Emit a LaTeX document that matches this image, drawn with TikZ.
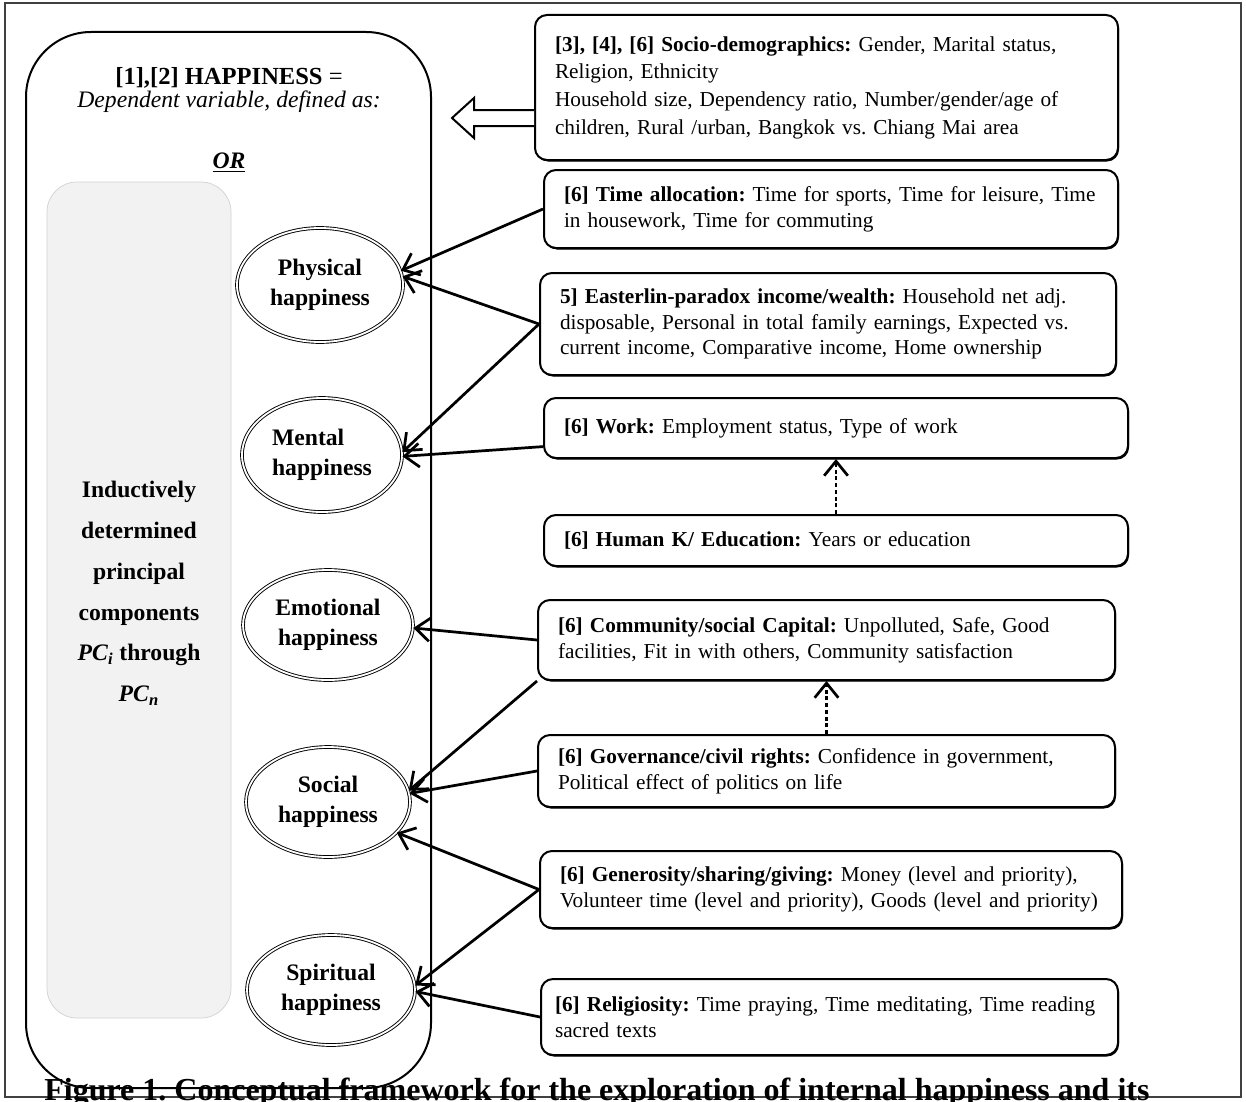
\documentclass[tikz,border=0pt]{standalone}
\usepackage{fontspec}
\setmainfont{Liberation Serif}
\usetikzlibrary{arrows.meta, shapes.geometric, positioning, calc, shadows}
\newlength{\pxu}
\setlength{\pxu}{0.55pt}
\frenchspacing
\hyphenpenalty=10000
\exhyphenpenalty=10000

\begin{document}
\begin{tikzpicture}[x=0.55pt, y=-0.55pt,
  factor/.style={draw, fill=white, line width=2\pxu, rounded corners=12\pxu,
    align=left, inner xsep=20\pxu, inner ysep=0pt,
    font=\fontsize{11.7}{14.2}\selectfont,
    drop shadow={shadow xshift=1\pxu, shadow yshift=-1.5\pxu, opacity=1, fill=black}},
  dim/.style={ellipse, draw, double, line width=0.5pt, double distance=1pt,
    inner sep=0pt, align=center, font=\bfseries\fontsize{13}{16.5}\selectfont},
  link/.style={-{Straight Barb[length=8pt, width=13pt]}, line width=1.5pt},
  depends/.style={link, dash pattern=on 2.2pt off 1.5pt}]
  \useasboundingbox (0,0) rectangle (1246,1101);
  \fill[white] (0,0) rectangle (1246,1101);

  % frame and the happiness block
  \draw[line width=1.3pt, black!75] (5,3) rectangle (1241,1097);
  \draw[line width=2\pxu, rounded corners=65\pxu] (26,32) rectangle (431,1088);
  \draw[fill=gray!10, draw=gray!35, rounded corners=30\pxu] (47,182) rectangle (231,1018);

  \node[font=\fontsize{13.5}{16}\selectfont] (title) at (229,78)
    {\textbf{[1],[2] HAPPINESS} =};
  \node[font=\itshape\fontsize{13}{16}\selectfont] (defn) at (229,102)
    {Dependent variable, defined as:};
  \node[font=\bfseries\itshape\fontsize{13}{16}\selectfont] (or) at (229,163)
    {\underline{OR}};
  \node[align=center, font=\bfseries\fontsize{13}{22.5}\selectfont] (pcs) at (139,593)
    {Inductively\\determined\\principal\\components\\
     \textit{PC}\textsubscript{\textit{i}} through\\\textit{PC}\textsubscript{\textit{n}}};

  % dimensions
  \node[dim, minimum width=166\pxu, minimum height=114\pxu] (phys) at (320,285)
    {Physical\\happiness};
  \node[dim, align=left, minimum width=160\pxu, minimum height=114\pxu] (ment) at (322,455)
    {Mental\\happiness};
  \node[dim, minimum width=170\pxu, minimum height=110\pxu] (emo) at (328,625)
    {Emotional\\happiness};
  \node[dim, minimum width=164\pxu, minimum height=110\pxu] (soc) at (328,802)
    {Social\\happiness};
  \node[dim, minimum width=168\pxu, minimum height=110\pxu] (spir) at (331,990)
    {Spiritual\\happiness};

  % explanatory factors
  \node[factor, text width=543\pxu, minimum height=145\pxu] (socio) at (826.5,87.5)
    {\textbf{[3], [4], [6] Socio-demographics:} Gender, Marital status,\\[1pt]
     Religion, Ethnicity\\[1pt]
     Household size, Dependency ratio, Number/gender/age of\\[1pt]
     children, Rural /urban, Bangkok vs. Chiang Mai area};
  \node[factor, text width=534\pxu, minimum height=78\pxu] (time) at (831,209)
    {\textbf{[6] Time allocation:} Time for sports, Time for leisure, Time\\
     in housework, Time for commuting};
  \node[factor, text width=536\pxu, minimum height=102\pxu] (easter) at (828,324)
    {\textbf{5] Easterlin-paradox income/wealth:} Household net adj.\\
     disposable, Personal in total family earnings, Expected vs.\\
     current income, Comparative income, Home ownership};
  \node[factor, text width=544\pxu, minimum height=60\pxu] (work) at (836,428)
    {\textbf{[6] Work:} Employment status, Type of work};
  \node[factor, text width=544\pxu, minimum height=51\pxu] (hum) at (836,540.5)
    {\textbf{[6] Human K/ Education:} Years or education};
  \node[factor, text width=537\pxu, minimum height=80\pxu] (comm) at (826.5,640)
    {\textbf{[6] Community/social Capital:} Unpolluted, Safe, Good\\
     facilities, Fit in with others, Community satisfaction};
  \node[factor, text width=537\pxu, minimum height=72\pxu] (gov) at (826.5,771)
    {\textbf{[6] Governance/civil rights:} Confidence in government,\\
     Political effect of politics on life};
  \node[factor, text width=542\pxu, minimum height=77\pxu] (gen) at (831,889.5)
    {\textbf{[6] Generosity/sharing/giving:} Money (level and priority),\\
     Volunteer time (level and priority), Goods (level and priority)};
  \node[factor, inner xsep=14\pxu, text width=549\pxu, minimum height=76\pxu] (rel) at (829.5,1017)
    {\textbf{[6] Religiosity:} Time praying, Time meditating, Time reading\\
     sacred texts};

  % hollow arrow into the happiness block
  \coordinate (hollowtip) at (452,118);
  \draw[line width=2\pxu, fill=white] (socio.west |- 0,110) -- (474,110) -- (474,98)
    -- (hollowtip) -- (474,138) -- (474,126) -- (socio.west |- 0,126);

  % links
  \draw[link] (time.west) -- (phys.10);
  \draw[link] (easter.west) -- (phys.6);
  \draw[link] (easter.west) -- (ment.2);
  \draw[link] ($(work.west)!0.6!(work.south west)$) -- (ment.-1);
  \draw[link] (comm.west) -- (emo.-2);
  \draw[link] (comm.south west) -- (soc.8);
  \draw[link] (gov.west) -- (soc.6);
  \draw[link] (gen.west) -- (soc.-24);
  \draw[link] (gen.west) -- (spir.3);
  \draw[link] (rel.west) -- (spir.-1);
  \draw[depends] (hum.north) -- (work.south);
  \draw[depends] (gov.north) -- (comm.south);

  \node[anchor=base west, inner sep=0pt, font=\bfseries\fontsize{17.6}{20}\selectfont]
    (caption) at (44,1100)
    {Figure 1. Conceptual framework for the exploration of internal happiness and its};
\end{tikzpicture}
\end{document}
